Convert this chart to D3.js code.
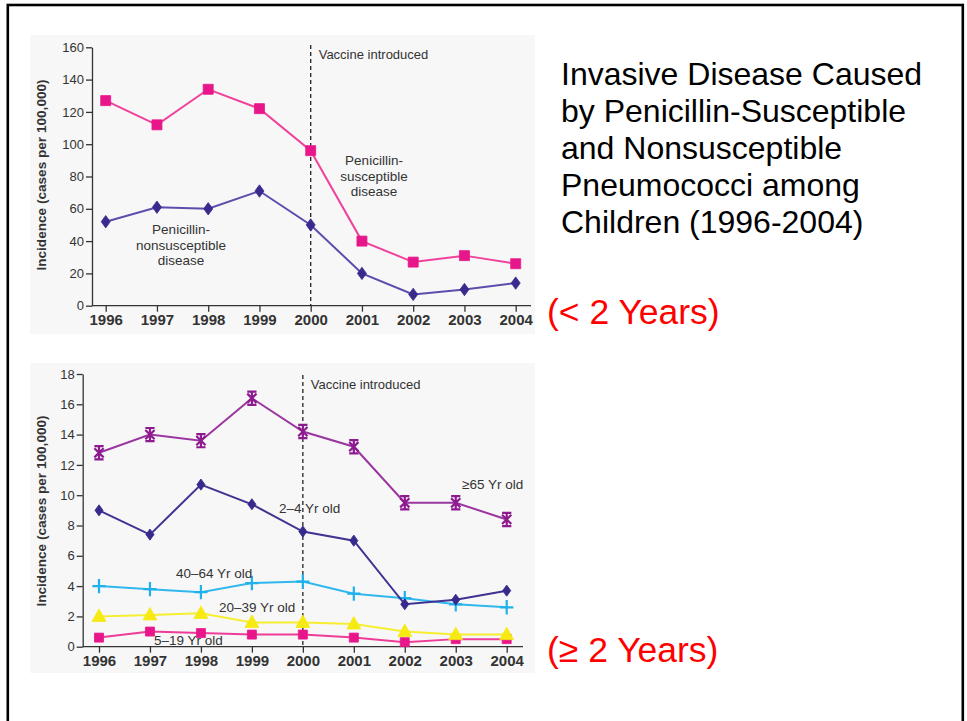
<!DOCTYPE html>
<html>
<head>
<meta charset="utf-8">
<script src="https://cdn.jsdelivr.net/npm/d3@7"></script>
<style>
  html, body { margin: 0; padding: 0; background: #ffffff; }
  svg { display: block; }
</style>
</head>
<body>
<svg id="chart" width="967" height="721"></svg>
<script>
// ---------- data ----------
const years = [1996, 1997, 1998, 1999, 2000, 2001, 2002, 2003, 2004];

// Top panel (< 2 years)
const susceptible    = [127, 112, 134, 122, 96, 40, 27, 31, 26];
const nonsusceptible = [52, 61, 60, 71, 50, 20, 7, 10, 14];
const topYTicks = [0, 20, 40, 60, 80, 100, 120, 140, 160];

// Bottom panel (>= 2 years)
const age65    = [12.8, 14.0, 13.6, 16.4, 14.2, 13.2, 9.5, 9.5, 8.4];
const age2_4   = [9.0, 7.4, 10.7, 9.4, 7.6, 7.0, 2.8, 3.1, 3.7];
const age40_64 = [4.0, 3.8, 3.6, 4.2, 4.3, 3.5, 3.2, 2.8, 2.6];
const age20_39 = [2.0, 2.1, 2.2, 1.6, 1.6, 1.5, 1.0, 0.8, 0.8];
const age5_19  = [0.6, 1.0, 0.9, 0.8, 0.8, 0.6, 0.3, 0.5, 0.5];
const botYTicks = [0, 2, 4, 6, 8, 10, 12, 14, 16, 18];

const vaccineYear = 2000;
const titleLines = ["Invasive Disease Caused", "by Penicillin-Susceptible", "and Nonsusceptible", "Pneumococci among", "Children (1996-2004)"];

// ---------- drawing ----------
const svg = d3.select("#chart");
const NARROW = "'Liberation Sans Narrow', 'Arial Narrow', 'Liberation Sans', Arial, sans-serif";
const SANS = "'Liberation Sans', Arial, sans-serif";
const AX = "#333333";

// slide frame
svg.append("rect").attr("x", 7.8).attr("y", 5).attr("width", 955).attr("height", 760)
  .attr("fill", "none").attr("stroke", "#000").attr("stroke-width", 2.6);

// panel backgrounds
svg.append("rect").attr("x", 30).attr("y", 35).attr("width", 505).attr("height", 299).attr("fill", "#f7f7f7");
svg.append("rect").attr("x", 30).attr("y", 363).attr("width", 505).attr("height", 310).attr("fill", "#f7f7f7");

function symbolPath(type, size) {
  const s = size;
  if (type === "square") return `M${-s/2},${-s/2}H${s/2}V${s/2}H${-s/2}Z`;
  if (type === "diamond") return `M0,${-s*0.62}L${s*0.45},0L0,${s*0.62}L${-s*0.45},0Z`;
  if (type === "triangle") return `M0,${-s*0.62}L${s*0.58},${s*0.42}L${-s*0.58},${s*0.42}Z`;
  if (type === "plus") return `M0,${-s*0.6}V${s*0.6}M${-s*0.55},0H${s*0.55}`;
  if (type === "asterisk") {
    const a = s*0.42, h = s*0.6;
    return `M0,${-h}V${h}M${-a},${-a}L${a},${a}M${a},${-a}L${-a},${a}M${-a},${-h}H${a}M${-a},${h}H${a}`;
  }
}

function drawPanel(cfg) {
  const g = svg.append("g");
  const x = d3.scaleLinear().domain([years[0], years[years.length-1]]).range(cfg.xRange);
  const y = d3.scaleLinear().domain([0, cfg.yMax]).range(cfg.yRange);

  // x-axis line spans full width
  g.append("line").attr("x1", cfg.axisLeft).attr("x2", cfg.axisRight)
    .attr("y1", y(0)).attr("y2", y(0)).attr("stroke", AX).attr("stroke-width", 1.3);

  const xa = g.append("g").attr("transform", `translate(0,${y(0)})`)
    .call(d3.axisBottom(x).tickValues(years).tickFormat(d3.format("d")).tickSize(6).tickSizeOuter(0).tickPadding(3));
  xa.select(".domain").remove();
  xa.selectAll("line").attr("stroke", AX).attr("stroke-width", 1.3);
  xa.selectAll("text").attr("fill", "#333").attr("font-family", NARROW).attr("font-size", 15).attr("font-weight", "bold");

  const ya = g.append("g").attr("transform", `translate(${cfg.axisLeft},0)`)
    .call(d3.axisLeft(y).tickValues(cfg.yTicks).tickSize(6).tickSizeOuter(0).tickPadding(2));
  ya.select(".domain").attr("stroke", AX).attr("stroke-width", 1.3);
  ya.selectAll("line").attr("stroke", AX).attr("stroke-width", 1.3);
  ya.selectAll("text").attr("fill", "#333").attr("font-family", NARROW).attr("font-size", 13);

  // y title
  g.append("text").attr("transform", `translate(41,${cfg.yTitleY}) rotate(-90)`)
    .attr("text-anchor", "middle").attr("dominant-baseline", "central")
    .attr("font-family", NARROW).attr("font-size", 13.6).attr("font-weight", "bold").attr("fill", "#333")
    .text("Incidence (cases per 100,000)");

  // vaccine line
  g.append("line").attr("x1", x(vaccineYear)).attr("x2", x(vaccineYear))
    .attr("y1", cfg.dashTop).attr("y2", y(0)).attr("stroke", "#222").attr("stroke-width", 1.3)
    .attr("stroke-dasharray", "4,3");
  g.append("text").attr("x", x(vaccineYear) + 8).attr("y", cfg.dashTop + 9)
    .attr("dominant-baseline", "central")
    .attr("font-family", NARROW).attr("font-size", 13).attr("fill", "#333").text("Vaccine introduced");

  cfg.series.forEach(s => {
    const line = d3.line().x((d, i) => x(years[i])).y(d => y(d));
    g.append("path").datum(s.values).attr("d", line).attr("fill", "none")
      .attr("stroke", s.lineColor).attr("stroke-width", s.lineWidth || 2);
    g.selectAll(null).data(s.values).enter().append("path")
      .attr("transform", (d, i) => `translate(${x(years[i])},${y(d)})`)
      .attr("d", symbolPath(s.symbol, s.size))
      .attr("fill", (s.symbol === "plus" || s.symbol === "asterisk") ? "none" : s.color)
      .attr("stroke", s.color)
      .attr("stroke-width", (s.symbol === "plus" || s.symbol === "asterisk") ? 2.2 : 0.8);
  });

  cfg.labels.forEach(l => {
    const t = g.append("text").attr("x", l.x).attr("y", l.y)
      .attr("text-anchor", l.anchor || "start")
      .attr("font-family", NARROW).attr("font-size", l.size || 13.5).attr("fill", "#333");
    l.lines.forEach((ln, i) => t.append("tspan").attr("x", l.x).attr("dy", i === 0 ? 0 : 15.7).text(ln));
  });
}

drawPanel({
  xRange: [105.7, 515.7], yRange: [305.7, 47.3], yMax: 160, yTicks: topYTicks,
  axisLeft: 92, axisRight: 531, yTitleY: 175, dashTop: 45,
  series: [
    { values: susceptible, color: "#e8168b", lineColor: "#f0429c", symbol: "square", size: 10 },
    { values: nonsusceptible, color: "#3a2a8e", lineColor: "#5a4ead", symbol: "diamond", size: 10 }
  ],
  labels: [
    { x: 374, y: 165, anchor: "middle", lines: ["Penicillin-", "susceptible", "disease"] },
    { x: 181, y: 234, anchor: "middle", lines: ["Penicillin-", "nonsusceptible", "disease"] }
  ]
});

drawPanel({
  xRange: [99, 506.7], yRange: [646.7, 374], yMax: 18, yTicks: botYTicks,
  axisLeft: 82.7, axisRight: 523, yTitleY: 511, dashTop: 375,
  series: [
    { values: age5_19, color: "#e8168b", lineColor: "#ee3d98", symbol: "square", size: 9 },
    { values: age20_39, color: "#f6ea12", lineColor: "#f6ee30", symbol: "triangle", size: 12 },
    { values: age40_64, color: "#1fb1ec", lineColor: "#30b8ee", symbol: "plus", size: 12 },
    { values: age2_4, color: "#362a8c", lineColor: "#3f3291", symbol: "diamond", size: 9 },
    { values: age65, color: "#8e1a90", lineColor: "#9b36a0", symbol: "asterisk", size: 11 }
  ],
  labels: [
    { x: 462, y: 489, lines: ["\u226565 Yr old"] },
    { x: 279, y: 513, lines: ["2\u20134 Yr old"] },
    { x: 176, y: 578, lines: ["40\u201364 Yr old"] },
    { x: 219, y: 612, lines: ["20\u201339 Yr old"] },
    { x: 154, y: 645, lines: ["5\u201319 Yr old"] }
  ]
});

// title text
const tt = svg.append("text").attr("font-family", SANS).attr("font-size", 32).attr("fill", "#000");
titleLines.forEach((ln, i) => tt.append("tspan").attr("x", 561).attr("y", 85 + i * 37).text(ln));

svg.append("text").attr("x", 547).attr("y", 324).attr("font-family", SANS).attr("font-size", 35.5)
  .attr("fill", "#ff0000").text("(< 2 Years)");
svg.append("text").attr("x", 547).attr("y", 662).attr("font-family", SANS).attr("font-size", 35.5)
  .attr("fill", "#ff0000").text("(\u2265 2 Years)");
</script>
</body>
</html>
